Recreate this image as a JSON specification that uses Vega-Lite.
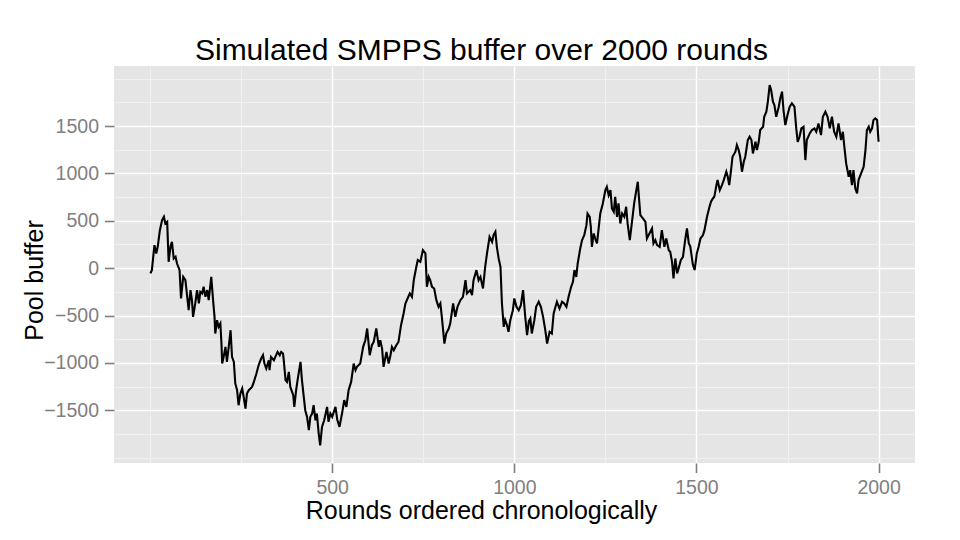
{
  "$schema": "https://vega.github.io/schema/vega-lite/v6.json",
  "width": 801,
  "height": 397,
  "autosize": "none",
  "padding": {"left": 114, "top": 66, "right": 45, "bottom": 77},
  "title": {
    "text": "Simulated SMPPS buffer over 2000 rounds",
    "fontSize": 30,
    "font": "Liberation Sans",
    "fontWeight": "normal",
    "color": "black",
    "anchor": "middle",
    "frame": "group",
    "dx": -33,
    "dy": 31,
    "baseline": "alphabetic",
    "offset": 7
  },
  "data": {
    "values": [
      {"round": 1, "buffer": -56}, {"round": 5, "buffer": -21}, {"round": 12, "buffer": 243}, {"round": 17, "buffer": 155},
      {"round": 21, "buffer": 225}, {"round": 27, "buffer": 401}, {"round": 33, "buffer": 507}, {"round": 38, "buffer": 542},
      {"round": 42, "buffer": 472}, {"round": 47, "buffer": 489}, {"round": 51, "buffer": 67}, {"round": 56, "buffer": 225},
      {"round": 60, "buffer": 278}, {"round": 65, "buffer": 102}, {"round": 70, "buffer": 120}, {"round": 74, "buffer": 49},
      {"round": 81, "buffer": -21}, {"round": 85, "buffer": -320}, {"round": 91, "buffer": -92}, {"round": 97, "buffer": -127},
      {"round": 106, "buffer": -444}, {"round": 111, "buffer": -232}, {"round": 115, "buffer": -338}, {"round": 118, "buffer": -514},
      {"round": 124, "buffer": -373}, {"round": 129, "buffer": -232}, {"round": 134, "buffer": -373}, {"round": 138, "buffer": -250},
      {"round": 143, "buffer": -267}, {"round": 147, "buffer": -197}, {"round": 152, "buffer": -303}, {"round": 157, "buffer": -232},
      {"round": 161, "buffer": -338}, {"round": 166, "buffer": -162}, {"round": 168, "buffer": -92}, {"round": 173, "buffer": -338},
      {"round": 177, "buffer": -514}, {"round": 179, "buffer": -690}, {"round": 184, "buffer": -549}, {"round": 188, "buffer": -620},
      {"round": 193, "buffer": -585}, {"round": 196, "buffer": -796}, {"round": 198, "buffer": -1007}, {"round": 202, "buffer": -937},
      {"round": 207, "buffer": -831}, {"round": 211, "buffer": -990}, {"round": 216, "buffer": -831}, {"round": 221, "buffer": -655},
      {"round": 225, "buffer": -937}, {"round": 230, "buffer": -990}, {"round": 234, "buffer": -1218}, {"round": 239, "buffer": -1289},
      {"round": 243, "buffer": -1447}, {"round": 248, "buffer": -1324}, {"round": 253, "buffer": -1271}, {"round": 257, "buffer": -1359},
      {"round": 262, "buffer": -1482}, {"round": 266, "buffer": -1324}, {"round": 271, "buffer": -1289}, {"round": 280, "buffer": -1254},
      {"round": 285, "buffer": -1201}, {"round": 292, "buffer": -1113}, {"round": 298, "buffer": -1025}, {"round": 305, "buffer": -954},
      {"round": 310, "buffer": -919}, {"round": 314, "buffer": -1007}, {"round": 319, "buffer": -1060}, {"round": 326, "buffer": -972},
      {"round": 328, "buffer": -1077}, {"round": 332, "buffer": -937}, {"round": 340, "buffer": -972}, {"round": 344, "buffer": -937},
      {"round": 350, "buffer": -884}, {"round": 356, "buffer": -919}, {"round": 360, "buffer": -884}, {"round": 365, "buffer": -901},
      {"round": 367, "buffer": -972}, {"round": 372, "buffer": -1183}, {"round": 376, "buffer": -1201}, {"round": 381, "buffer": -1095},
      {"round": 385, "buffer": -1254}, {"round": 393, "buffer": -1342}, {"round": 396, "buffer": -1465}, {"round": 401, "buffer": -1289},
      {"round": 405, "buffer": -1183}, {"round": 413, "buffer": -990}, {"round": 417, "buffer": -1183}, {"round": 422, "buffer": -1359},
      {"round": 426, "buffer": -1500}, {"round": 431, "buffer": -1570}, {"round": 436, "buffer": -1711}, {"round": 440, "buffer": -1570},
      {"round": 445, "buffer": -1535}, {"round": 449, "buffer": -1447}, {"round": 454, "buffer": -1606}, {"round": 458, "buffer": -1535},
      {"round": 463, "buffer": -1746}, {"round": 467, "buffer": -1870}, {"round": 472, "buffer": -1676}, {"round": 478, "buffer": -1606},
      {"round": 486, "buffer": -1465}, {"round": 490, "buffer": -1623}, {"round": 495, "buffer": -1535}, {"round": 500, "buffer": -1570},
      {"round": 509, "buffer": -1465}, {"round": 514, "buffer": -1600}, {"round": 520, "buffer": -1676}, {"round": 527, "buffer": -1535},
      {"round": 533, "buffer": -1394}, {"round": 539, "buffer": -1465}, {"round": 545, "buffer": -1289}, {"round": 552, "buffer": -1201},
      {"round": 559, "buffer": -1007}, {"round": 564, "buffer": -1077}, {"round": 568, "buffer": -1042}, {"round": 577, "buffer": -1007},
      {"round": 585, "buffer": -831}, {"round": 591, "buffer": -761}, {"round": 596, "buffer": -637}, {"round": 603, "buffer": -919},
      {"round": 609, "buffer": -813}, {"round": 614, "buffer": -778}, {"round": 621, "buffer": -637}, {"round": 628, "buffer": -831},
      {"round": 632, "buffer": -761}, {"round": 637, "buffer": -849}, {"round": 641, "buffer": -1042}, {"round": 649, "buffer": -884},
      {"round": 655, "buffer": -1007}, {"round": 660, "buffer": -919}, {"round": 664, "buffer": -831}, {"round": 669, "buffer": -866},
      {"round": 676, "buffer": -813}, {"round": 682, "buffer": -778}, {"round": 689, "buffer": -602}, {"round": 696, "buffer": -479},
      {"round": 701, "buffer": -373}, {"round": 707, "buffer": -320}, {"round": 713, "buffer": -267}, {"round": 719, "buffer": -303},
      {"round": 724, "buffer": -127}, {"round": 731, "buffer": 14}, {"round": 735, "buffer": 85}, {"round": 742, "buffer": 67},
      {"round": 749, "buffer": 190}, {"round": 756, "buffer": 155}, {"round": 760, "buffer": -197}, {"round": 765, "buffer": -92},
      {"round": 769, "buffer": -127}, {"round": 774, "buffer": -197}, {"round": 780, "buffer": -215}, {"round": 786, "buffer": -338},
      {"round": 792, "buffer": -408}, {"round": 797, "buffer": -373}, {"round": 801, "buffer": -514}, {"round": 808, "buffer": -796},
      {"round": 813, "buffer": -690}, {"round": 820, "buffer": -637}, {"round": 824, "buffer": -585}, {"round": 832, "buffer": -373},
      {"round": 838, "buffer": -514}, {"round": 844, "buffer": -408}, {"round": 852, "buffer": -338}, {"round": 859, "buffer": -303},
      {"round": 866, "buffer": -127}, {"round": 870, "buffer": -267}, {"round": 879, "buffer": -232}, {"round": 884, "buffer": -285},
      {"round": 888, "buffer": -127}, {"round": 896, "buffer": -21}, {"round": 902, "buffer": -127}, {"round": 907, "buffer": -92},
      {"round": 914, "buffer": -215}, {"round": 920, "buffer": 14}, {"round": 925, "buffer": 155}, {"round": 932, "buffer": 331},
      {"round": 939, "buffer": 278}, {"round": 943, "buffer": 349}, {"round": 948, "buffer": 384}, {"round": 952, "buffer": 225},
      {"round": 957, "buffer": 102}, {"round": 962, "buffer": 14}, {"round": 966, "buffer": -373}, {"round": 971, "buffer": -620},
      {"round": 975, "buffer": -549}, {"round": 980, "buffer": -602}, {"round": 984, "buffer": -673}, {"round": 989, "buffer": -549},
      {"round": 996, "buffer": -444}, {"round": 1000, "buffer": -320}, {"round": 1006, "buffer": -408}, {"round": 1012, "buffer": -444},
      {"round": 1018, "buffer": -391}, {"round": 1024, "buffer": -232}, {"round": 1030, "buffer": -514}, {"round": 1035, "buffer": -708},
      {"round": 1040, "buffer": -560}, {"round": 1044, "buffer": -532}, {"round": 1048, "buffer": -690}, {"round": 1055, "buffer": -549},
      {"round": 1060, "buffer": -408}, {"round": 1067, "buffer": -355}, {"round": 1073, "buffer": -408}, {"round": 1079, "buffer": -514},
      {"round": 1085, "buffer": -655}, {"round": 1090, "buffer": -796}, {"round": 1097, "buffer": -673}, {"round": 1103, "buffer": -690},
      {"round": 1108, "buffer": -479}, {"round": 1113, "buffer": -408}, {"round": 1117, "buffer": -355}, {"round": 1124, "buffer": -426},
      {"round": 1131, "buffer": -355}, {"round": 1137, "buffer": -373}, {"round": 1143, "buffer": -408}, {"round": 1149, "buffer": -303},
      {"round": 1156, "buffer": -197}, {"round": 1161, "buffer": -144}, {"round": 1165, "buffer": -21}, {"round": 1170, "buffer": -92},
      {"round": 1174, "buffer": 49}, {"round": 1181, "buffer": 208}, {"round": 1186, "buffer": 296}, {"round": 1192, "buffer": 349},
      {"round": 1198, "buffer": 454}, {"round": 1201, "buffer": 577}, {"round": 1207, "buffer": 542}, {"round": 1210, "buffer": 437},
      {"round": 1213, "buffer": 225}, {"round": 1218, "buffer": 366}, {"round": 1222, "buffer": 313}, {"round": 1227, "buffer": 261},
      {"round": 1231, "buffer": 401}, {"round": 1236, "buffer": 577}, {"round": 1243, "buffer": 683}, {"round": 1250, "buffer": 824},
      {"round": 1254, "buffer": 859}, {"round": 1259, "buffer": 771}, {"round": 1264, "buffer": 824}, {"round": 1268, "buffer": 630},
      {"round": 1273, "buffer": 595}, {"round": 1277, "buffer": 753}, {"round": 1282, "buffer": 542}, {"round": 1286, "buffer": 683},
      {"round": 1291, "buffer": 472}, {"round": 1296, "buffer": 577}, {"round": 1302, "buffer": 542}, {"round": 1307, "buffer": 648},
      {"round": 1311, "buffer": 472}, {"round": 1317, "buffer": 296}, {"round": 1323, "buffer": 489}, {"round": 1329, "buffer": 683},
      {"round": 1335, "buffer": 824}, {"round": 1339, "buffer": 912}, {"round": 1342, "buffer": 753}, {"round": 1346, "buffer": 560},
      {"round": 1353, "buffer": 525}, {"round": 1360, "buffer": 489}, {"round": 1364, "buffer": 313}, {"round": 1371, "buffer": 366},
      {"round": 1378, "buffer": 419}, {"round": 1382, "buffer": 261}, {"round": 1387, "buffer": 296}, {"round": 1392, "buffer": 243},
      {"round": 1399, "buffer": 225}, {"round": 1405, "buffer": 401}, {"round": 1412, "buffer": 225}, {"round": 1417, "buffer": 313},
      {"round": 1424, "buffer": 190}, {"round": 1428, "buffer": 173}, {"round": 1433, "buffer": 67}, {"round": 1437, "buffer": -109},
      {"round": 1442, "buffer": 102}, {"round": 1447, "buffer": -56}, {"round": 1451, "buffer": -4}, {"round": 1457, "buffer": 84},
      {"round": 1463, "buffer": 120}, {"round": 1469, "buffer": 296}, {"round": 1474, "buffer": 419}, {"round": 1479, "buffer": 261},
      {"round": 1483, "buffer": 230}, {"round": 1490, "buffer": 40}, {"round": 1495, "buffer": -20}, {"round": 1501, "buffer": 155},
      {"round": 1506, "buffer": 225}, {"round": 1511, "buffer": 313}, {"round": 1518, "buffer": 349}, {"round": 1522, "buffer": 401},
      {"round": 1529, "buffer": 542}, {"round": 1536, "buffer": 650}, {"round": 1540, "buffer": 701}, {"round": 1545, "buffer": 736},
      {"round": 1549, "buffer": 753}, {"round": 1555, "buffer": 877}, {"round": 1558, "buffer": 930}, {"round": 1564, "buffer": 824},
      {"round": 1570, "buffer": 877}, {"round": 1575, "buffer": 930}, {"round": 1582, "buffer": 1018}, {"round": 1586, "buffer": 965},
      {"round": 1590, "buffer": 877}, {"round": 1595, "buffer": 1035}, {"round": 1599, "buffer": 1176}, {"round": 1607, "buffer": 1229},
      {"round": 1611, "buffer": 1299}, {"round": 1616, "buffer": 1246}, {"round": 1620, "buffer": 1176}, {"round": 1625, "buffer": 1018},
      {"round": 1630, "buffer": 1123}, {"round": 1634, "buffer": 1176}, {"round": 1641, "buffer": 1352}, {"round": 1646, "buffer": 1387},
      {"round": 1651, "buffer": 1352}, {"round": 1655, "buffer": 1211}, {"round": 1662, "buffer": 1334}, {"round": 1666, "buffer": 1246},
      {"round": 1671, "buffer": 1334}, {"round": 1675, "buffer": 1458}, {"round": 1683, "buffer": 1493}, {"round": 1686, "buffer": 1598},
      {"round": 1692, "buffer": 1651}, {"round": 1696, "buffer": 1757}, {"round": 1701, "buffer": 1933}, {"round": 1705, "buffer": 1880},
      {"round": 1710, "buffer": 1757}, {"round": 1714, "buffer": 1722}, {"round": 1719, "buffer": 1598}, {"round": 1726, "buffer": 1704},
      {"round": 1730, "buffer": 1792}, {"round": 1735, "buffer": 1863}, {"round": 1739, "buffer": 1669}, {"round": 1744, "buffer": 1511},
      {"round": 1750, "buffer": 1616}, {"round": 1756, "buffer": 1704}, {"round": 1762, "buffer": 1739}, {"round": 1769, "buffer": 1704},
      {"round": 1774, "buffer": 1475}, {"round": 1778, "buffer": 1334}, {"round": 1783, "buffer": 1387}, {"round": 1788, "buffer": 1475},
      {"round": 1794, "buffer": 1493}, {"round": 1799, "buffer": 1141}, {"round": 1803, "buffer": 1352}, {"round": 1811, "buffer": 1422},
      {"round": 1817, "buffer": 1458}, {"round": 1824, "buffer": 1475}, {"round": 1829, "buffer": 1440}, {"round": 1835, "buffer": 1528},
      {"round": 1842, "buffer": 1405}, {"round": 1847, "buffer": 1598}, {"round": 1854, "buffer": 1651}, {"round": 1860, "buffer": 1598},
      {"round": 1866, "buffer": 1475}, {"round": 1872, "buffer": 1598}, {"round": 1878, "buffer": 1440}, {"round": 1884, "buffer": 1387},
      {"round": 1890, "buffer": 1528}, {"round": 1897, "buffer": 1352}, {"round": 1902, "buffer": 1440}, {"round": 1906, "buffer": 1282},
      {"round": 1911, "buffer": 1106}, {"round": 1918, "buffer": 965}, {"round": 1922, "buffer": 1035}, {"round": 1927, "buffer": 877},
      {"round": 1931, "buffer": 1035}, {"round": 1936, "buffer": 842}, {"round": 1941, "buffer": 789}, {"round": 1945, "buffer": 930},
      {"round": 1952, "buffer": 1000}, {"round": 1959, "buffer": 1070}, {"round": 1964, "buffer": 1246}, {"round": 1968, "buffer": 1458},
      {"round": 1973, "buffer": 1493}, {"round": 1977, "buffer": 1440}, {"round": 1982, "buffer": 1475}, {"round": 1986, "buffer": 1563},
      {"round": 1991, "buffer": 1581}, {"round": 1996, "buffer": 1563}, {"round": 2000, "buffer": 1334}
    ]
  },
  "mark": {"type": "line", "color": "black", "strokeWidth": 2.1},
  "encoding": {
    "x": {
      "field": "round",
      "type": "quantitative",
      "scale": {"domain": [-99, 2100], "nice": false, "zero": false},
      "axis": {
        "title": "Rounds ordered chronologically",
        "values": [0, 250, 500, 750, 1000, 1250, 1500, 1750, 2000],
        "labelExpr": "datum.value % 500 === 0 && datum.value > 0 ? datum.label : ''",
        "gridColor": {"condition": {"test": "datum.value % 500 === 0 && datum.value > 0", "value": "white"}, "value": "#F2F2F2"},
        "gridWidth": {"condition": {"test": "datum.value % 500 === 0 && datum.value > 0", "value": 1.5}, "value": 0.9},
        "tickColor": {"condition": {"test": "datum.value % 500 === 0 && datum.value > 0", "value": "#7F7F7F"}, "value": "transparent"},
        "labelPadding": 6,
        "titleX": 367,
        "titleY": 55,
        "titleAlign": "center",
        "titleBaseline": "alphabetic"
      }
    },
    "y": {
      "field": "buffer",
      "type": "quantitative",
      "scale": {"domain": [-2057, 2134], "nice": false, "zero": false},
      "axis": {
        "title": "Pool buffer",
        "values": [-2000, -1750, -1500, -1250, -1000, -750, -500, -250, 0, 250, 500, 750, 1000, 1250, 1500, 1750, 2000],
        "labelExpr": "datum.value % 500 === 0 && abs(datum.value) <= 1500 ? datum.label : ''",
        "gridColor": {"condition": {"test": "datum.value % 500 === 0 && abs(datum.value) <= 1500", "value": "white"}, "value": "#F2F2F2"},
        "gridWidth": {"condition": {"test": "datum.value % 500 === 0 && abs(datum.value) <= 1500", "value": 1.5}, "value": 0.9},
        "tickColor": {"condition": {"test": "datum.value % 500 === 0 && abs(datum.value) <= 1500", "value": "#7F7F7F"}, "value": "transparent"},
        "labelPadding": 6,
        "titleX": -72,
        "titleY": 214,
        "titleAngle": -90,
        "titleAlign": "center",
        "titleBaseline": "alphabetic"
      }
    }
  },
  "config": {
    "font": "Liberation Sans",
    "view": {"fill": "#E5E5E5", "stroke": null},
    "axis": {
      "domain": false,
      "grid": true,
      "format": "d",
      "labelFont": "Liberation Sans",
      "labelFontSize": 19.5,
      "labelColor": "#7F7F7F",
      "labelFlush": false,
      "labelOverlap": false,
      "tickSize": 9.5,
      "tickWidth": 1.6,
      "titleFont": "Liberation Sans",
      "titleFontSize": 25,
      "titleFontWeight": "normal",
      "titleColor": "black"
    }
  }
}
